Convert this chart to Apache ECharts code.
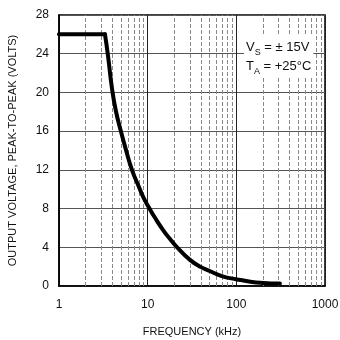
<!DOCTYPE html>
<html>
<head>
<meta charset="utf-8">
<script src="https://cdn.jsdelivr.net/npm/echarts@6/dist/echarts.min.js"></script>
<style>
  html, body { margin: 0; padding: 0; background: #fff; }
  #chart { width: 340px; height: 340px; }
</style>
</head>
<body>
<div id="chart"></div>
<script>
// frequency in kHz, output voltage in volts p-p
var flatFreq = [1, 3.3];
var flatVout = [26, 26];
var rollFreq = [3.3, 3.57, 3.96, 4.4, 5.05, 5.6, 6.65, 8, 9, 10.5, 12, 15, 17.7, 21, 30, 40, 50, 70, 100, 150, 200, 310];
var rollVout = [26, 23.8, 20.4, 18, 15.8, 14.3, 12, 10.2, 9.1, 8, 7.1, 5.75, 4.9, 4.1, 2.7, 1.95, 1.55, 1.0, 0.7, 0.42, 0.32, 0.25];
// minor log grid lines
var minorGrid = [2, 3, 4, 5, 6, 7, 8, 9, 20, 30, 40, 50, 60, 70, 80, 90, 200, 300, 400, 500, 600, 700, 800, 900];

var FONT = 'Liberation Sans';

var chart = echarts.init(document.getElementById('chart'));

function pairs(xs, ys) {
  var out = [];
  for (var i = 0; i < xs.length; i++) out.push([xs[i], ys[i]]);
  return out;
}

var curveStyle = { color: '#000', width: 4, join: 'round', cap: 'round' };

var opt = {
  animation: false,
  backgroundColor: '#fff',
  grid: {
    left: 59, right: 15, top: 15, bottom: 54,
    outerBoundsMode: 'none',
    show: true,
    borderColor: '#000',
    borderWidth: 1.5
  },
  xAxis: {
    type: 'log',
    logBase: 10,
    min: 1,
    max: 1000,
    name: 'FREQUENCY (kHz)',
    nameLocation: 'middle',
    nameGap: 40,
    nameTextStyle: { fontFamily: FONT, fontSize: 11, color: '#111' },
    axisLine: { show: true, lineStyle: { color: '#000', width: 1.5 } },
    axisTick: { show: false },
    axisLabel: {
      fontFamily: FONT, fontSize: 12, color: '#111', margin: 13,
      formatter: function (v) { return String(Math.round(v)); }
    },
    splitLine: { show: true, lineStyle: { color: '#222', width: 1 } }
  },
  yAxis: {
    type: 'value',
    min: 0,
    max: 28,
    interval: 4,
    name: 'OUTPUT VOLTAGE, PEAK-TO-PEAK (VOLTS)',
    nameLocation: 'middle',
    nameGap: 41,
    nameTextStyle: { fontFamily: FONT, fontSize: 11, color: '#111' },
    axisLine: { show: true, lineStyle: { color: '#000', width: 1.5 } },
    axisTick: { show: false },
    axisLabel: { fontFamily: FONT, fontSize: 12, color: '#111', margin: 10 },
    splitLine: { show: true, lineStyle: { color: '#555', width: 1 } }
  },
  graphic: [{
    type: 'text',
    left: 244,
    top: 36,
    z: 10,
    style: {
      text: '{m|V}{s|S}{m| = ± 15V}\n{m|T}{s|A}{m| = +25°C}',
      backgroundColor: '#fff',
      padding: [2, 2, 2, 2],
      rich: {
        m: { fontFamily: FONT, fontSize: 13, fill: '#111', lineHeight: 19 },
        s: { fontFamily: FONT, fontSize: 9, fill: '#111', lineHeight: 19, verticalAlign: 'bottom', padding: [6, 0, 0, 0] }
      }
    }
  }],
  series: [{
    type: 'line',
    data: [],
    silent: true,
    markLine: {
      silent: true,
      symbol: 'none',
      label: { show: false },
      lineStyle: { color: '#888', width: 1, type: [4, 2] },
      data: minorGrid.map(function (f) { return { xAxis: f }; })
    }
  }, {
    type: 'line',
    data: pairs(flatFreq, flatVout),
    showSymbol: false,
    lineStyle: curveStyle,
    z: 5
  }, {
    type: 'line',
    data: pairs(rollFreq, rollVout),
    showSymbol: false,
    smooth: 0.5,
    lineStyle: curveStyle,
    z: 5
  }]
};

chart.setOption(opt);
</script>
</body>
</html>
